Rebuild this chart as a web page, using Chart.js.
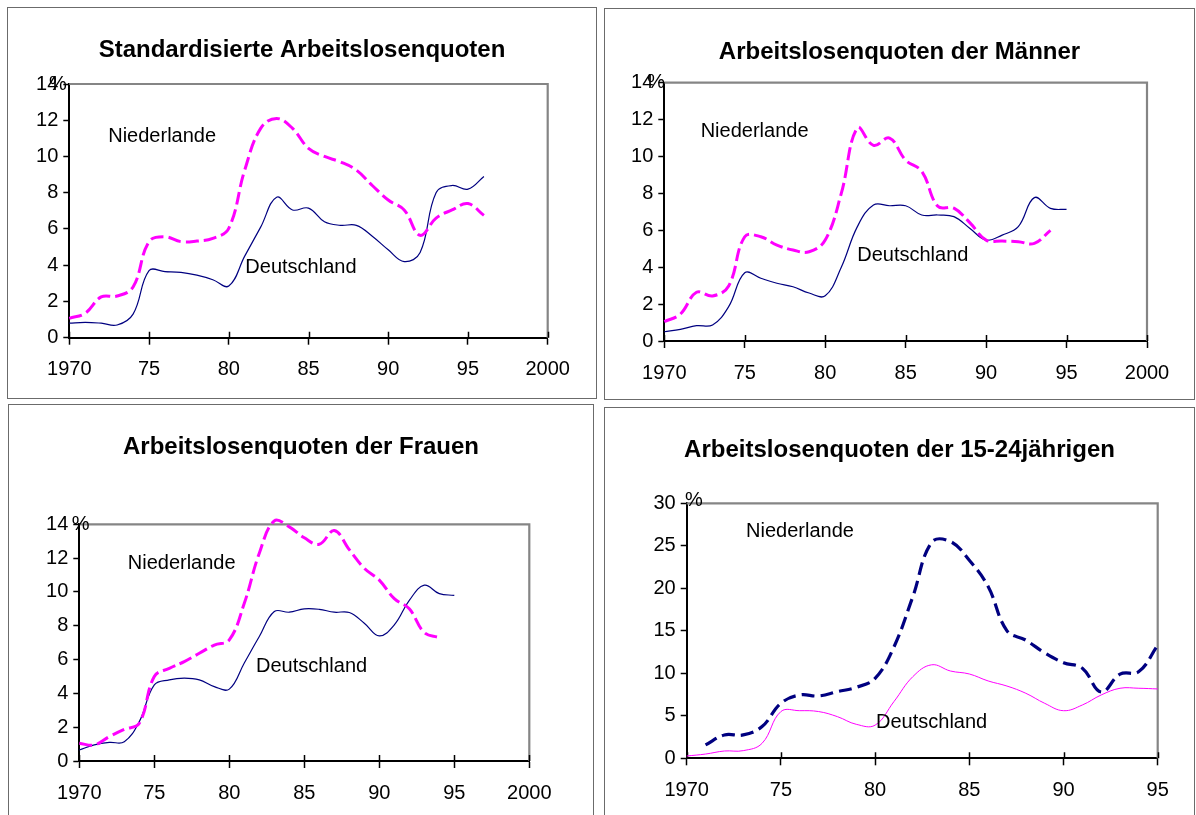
<!DOCTYPE html>
<html><head><meta charset="utf-8">
<script src="https://cdn.jsdelivr.net/npm/chart.js@4.4.0/dist/chart.umd.min.js"></script>
<style>
html,body{margin:0;padding:0;background:#fff;width:1196px;height:815px;overflow:hidden}
.box{position:absolute;border:1px solid #6b6b6b;box-sizing:border-box;background:#fff}
.box canvas{position:absolute;left:0;top:0}
</style></head><body>
<div class="box" style="left:7px;top:7px;width:590px;height:392px"><canvas id="c1" width="588" height="390"></canvas></div>
<div class="box" style="left:604px;top:8px;width:591px;height:392px"><canvas id="c2" width="589" height="390"></canvas></div>
<div class="box" style="left:8px;top:404px;width:586px;height:420px"><canvas id="c3" width="584" height="418"></canvas></div>
<div class="box" style="left:604px;top:407px;width:591px;height:420px"><canvas id="c4" width="589" height="418"></canvas></div>
<script>
// ---------- data ----------
const titles = ["Standardisierte Arbeitslosenquoten", "Arbeitslosenquoten der Männer", "Arbeitslosenquoten der Frauen", "Arbeitslosenquoten der 15-24jährigen"];
const seriesNames = ["Niederlande", "Deutschland"];

const xTicksA = [1970, 1975, 1980, 1985, 1990, 1995, 2000];
const xLabelsA = ["1970", "75", "80", "85", "90", "95", "2000"];
const xTicksB = [1970, 1975, 1980, 1985, 1990, 1995];
const xLabelsB = ["1970", "75", "80", "85", "90", "95"];

// Panel 1: standardisierte Quoten
const years1 = [1970,1971,1972,1973,1974,1975,1976,1977,1978,1979,1980,1981,1982,1983,1984,1985,1986,1987,1988,1989,1990,1991,1992,1993,1994,1995,1996];
const nl1 = [1.07,1.35,2.25,2.3,2.8,5.3,5.57,5.3,5.33,5.48,6.03,9.25,11.55,12.1,11.55,10.45,10.0,9.7,9.25,8.4,7.6,7.05,5.65,6.6,7.05,7.4,6.75];
const de1 = [0.8,0.85,0.8,0.7,1.3,3.7,3.65,3.6,3.45,3.2,2.85,4.5,6.1,7.75,7.05,7.15,6.4,6.2,6.2,5.6,4.85,4.2,4.7,8.0,8.4,8.2,8.9];

// Panel 2: Männer
const years2nl = [1970,1971,1972,1973,1974,1975,1976,1977,1978,1979,1980,1981,1982,1983,1984,1985,1986,1987,1988,1989,1990,1991,1992,1993,1994];
const nl2 = [1.05,1.46,2.64,2.44,2.98,5.65,5.65,5.2,4.93,4.84,5.47,8.0,11.55,10.6,11.0,9.8,9.2,7.3,7.2,6.4,5.47,5.42,5.38,5.29,6.0];
const years2de = [1970,1971,1972,1973,1974,1975,1976,1977,1978,1979,1980,1981,1982,1983,1984,1985,1986,1987,1988,1989,1990,1991,1992,1993,1994,1995];
const de2 = [0.5,0.63,0.83,0.87,1.86,3.7,3.4,3.13,2.94,2.6,2.45,4.0,6.2,7.37,7.33,7.33,6.83,6.83,6.74,6.1,5.47,5.74,6.2,7.77,7.19,7.13];

// Panel 3: Frauen
const years3nl = [1970,1971,1972,1973,1974,1975,1976,1977,1978,1979,1980,1981,1982,1983,1984,1985,1986,1987,1988,1989,1990,1991,1992,1993,1994];
const nl3 = [1.05,0.95,1.44,1.87,2.23,5.0,5.48,5.88,6.37,6.86,7.16,9.33,12.29,14.2,13.85,13.2,12.82,13.63,12.5,11.4,10.7,9.6,9.0,7.6,7.3];
const years3de = [1970,1971,1972,1973,1974,1975,1976,1977,1978,1979,1980,1981,1982,1983,1984,1985,1986,1987,1988,1989,1990,1991,1992,1993,1994,1995];
const de3 = [0.65,0.95,1.1,1.14,2.33,4.5,4.8,4.9,4.8,4.4,4.25,5.8,7.36,8.84,8.8,9.0,8.97,8.8,8.78,8.15,7.4,8.05,9.5,10.4,9.9,9.8];

// Panel 4: 15-24jährige
const years4nl = [1971,1972,1973,1974,1975,1976,1977,1978,1979,1980,1981,1982,1983,1984,1985,1986,1987,1988,1989,1990,1991,1992,1993,1994,1995];
const nl4 = [1.57,2.75,2.75,3.73,6.47,7.45,7.33,7.84,8.35,9.4,13.1,19.0,25.4,25.5,23.3,20.2,15.0,13.9,12.4,11.25,10.6,7.8,9.9,10.2,13.3];
const years4de = [1970,1971,1972,1973,1974,1975,1976,1977,1978,1979,1980,1981,1982,1983,1984,1985,1986,1987,1988,1989,1990,1991,1992,1993,1994,1995];
const de4 = [0.27,0.5,0.86,0.9,1.76,5.5,5.6,5.5,4.9,4.0,3.9,6.67,9.6,11.0,10.27,9.92,9.1,8.5,7.65,6.47,5.6,6.27,7.45,8.24,8.24,8.16];

// ---------- drawing ----------
const FONT = '"Liberation Sans", Arial, Helvetica, sans-serif';
Chart.defaults.font.family = FONT;
Chart.defaults.color = '#000';

const pts = (xs, ys) => xs.map((x, i) => ({x: x, y: ys[i]}));

const framePlugin = {
  id: 'frame',
  beforeDatasetsDraw(chart, args, opts) {
    const ctx = chart.ctx, a = chart.chartArea, xs = chart.scales.x;
    ctx.save();
    ctx.strokeStyle = '#858585'; ctx.lineWidth = 2.2;
    ctx.beginPath();
    ctx.moveTo(a.left, a.top); ctx.lineTo(a.right, a.top); ctx.lineTo(a.right, a.bottom);
    ctx.stroke();
    ctx.strokeStyle = '#000'; ctx.lineWidth = 1.5;
    ctx.beginPath();
    xs.ticks.forEach(t => {
      const px = Math.round(xs.getPixelForValue(t.value)) + 0.5;
      ctx.moveTo(px, a.bottom); ctx.lineTo(px, a.bottom - 6);
    });
    ctx.stroke();
    ctx.restore();
  },
  afterDraw(chart, args, opts) {
    const ctx = chart.ctx, a = chart.chartArea, xs = chart.scales.x, ys = chart.scales.y;
    ctx.save();
    // title, centred on the panel
    ctx.font = 'bold 24px ' + FONT;
    ctx.fillStyle = '#000';
    ctx.textAlign = 'center';
    ctx.textBaseline = 'alphabetic';
    ctx.fillText(opts.title, chart.width / 2, opts.titleMid + 8.6);
    // series labels
    ctx.font = '20px ' + FONT;
    ctx.textAlign = 'left';
    (opts.labels || []).forEach(l => ctx.fillText(l.text, xs.getPixelForValue(l.x), ys.getPixelForValue(l.y)));
    if (opts.pct) {
      ctx.textBaseline = 'middle';
      ctx.fillText('%', a.left + opts.pct.dx, a.top + opts.pct.dy);
    }
    ctx.restore();
  }
};

function build(id, p) {
  const cv = document.getElementById(id);
  const W = cv.width, H = cv.height;
  const yW = 50, xH = 40;
  new Chart(cv, {
    type: 'line',
    data: { datasets: p.datasets },
    options: {
      responsive: false, animation: false, events: [],
      layout: { padding: { left: p.plot[0] - yW, top: p.plot[1], right: W - p.plot[2], bottom: H - p.plot[3] - xH } },
      elements: { point: { radius: 0 }, line: { fill: false } },
      plugins: {
        legend: { display: false },
        tooltip: { enabled: false },
        title: { display: false },
        frame: { title: p.title, titleMid: p.titleMid, labels: p.labels, pct: p.pct }
      },
      scales: {
        x: {
          type: 'linear', min: p.xTicks[0], max: p.xTicks[p.xTicks.length - 1],
          afterFit: s => { s.height = xH; },
          afterBuildTicks: s => { s.ticks = p.xTicks.map(v => ({ value: v })); },
          ticks: { font: { size: 20 }, color: '#000', padding: 13, maxRotation: 0, autoSkip: false,
                   callback: v => p.xLabels[p.xTicks.indexOf(v)] },
          grid: { drawOnChartArea: false, drawTicks: true, tickLength: 7, tickColor: '#000', tickWidth: 1.5 },
          border: { display: true, color: '#000', width: 2 }
        },
        y: {
          min: 0, max: p.yMax,
          afterFit: s => { s.width = yW; },
          ticks: { stepSize: p.yStep, font: { size: 20 }, color: '#000', padding: 5 },
          grid: { drawOnChartArea: false, drawTicks: true, tickLength: 6, tickColor: '#000', tickWidth: 1.5 },
          border: { display: true, color: '#000', width: 2 }
        }
      }
    },
    plugins: [framePlugin]
  });
}

const dashStyle = (color, w, dash) => ({ borderColor: color, borderWidth: w, borderDash: dash, tension: 0.4, pointRadius: 0, borderCapStyle: 'butt', clip: 10 });
const solidStyle = (color, w) => ({ borderColor: color, borderWidth: w, tension: 0.4, pointRadius: 0, clip: 10 });
const MAG = '#FF00FF', NAVY = '#000080';

build('c1', {
  title: titles[0], titleMid: 40, plot: [61.3, 76, 539.7, 329.7],
  xTicks: xTicksA, xLabels: xLabelsA, yMax: 14, yStep: 2,
  datasets: [
    Object.assign({ label: seriesNames[0], data: pts(years1, nl1) }, dashStyle(MAG, 3, [13, 5])),
    Object.assign({ label: seriesNames[1], data: pts(years1, de1) }, solidStyle(NAVY, 1.2))
  ],
  labels: [{ text: seriesNames[0], x: 1972.44, y: 10.82 }, { text: seriesNames[1], x: 1981.04, y: 3.57 }],
  pct: { dx: -20.3, dy: 0 }
});

build('c2', {
  title: titles[1], titleMid: 41, plot: [59.3, 73.7, 542, 332],
  xTicks: xTicksA, xLabels: xLabelsA, yMax: 14, yStep: 2,
  datasets: [
    Object.assign({ label: seriesNames[0], data: pts(years2nl, nl2) }, dashStyle(MAG, 3, [13, 5])),
    Object.assign({ label: seriesNames[1], data: pts(years2de, de2) }, solidStyle(NAVY, 1.2))
  ],
  labels: [{ text: seriesNames[0], x: 1972.26, y: 11.07 }, { text: seriesNames[1], x: 1981.99, y: 4.34 }],
  pct: { dx: -17, dy: 0 }
});

build('c3', {
  title: titles[2], titleMid: 40, plot: [70.3, 119.3, 520.3, 356],
  xTicks: xTicksA, xLabels: xLabelsA, yMax: 14, yStep: 2,
  datasets: [
    Object.assign({ label: seriesNames[0], data: pts(years3nl, nl3) }, dashStyle(MAG, 3, [13, 5])),
    Object.assign({ label: seriesNames[1], data: pts(years3de, de3) }, solidStyle(NAVY, 1.2))
  ],
  labels: [{ text: seriesNames[0], x: 1973.23, y: 11.34 }, { text: seriesNames[1], x: 1981.78, y: 5.28 }],
  pct: { dx: -7.6, dy: 0 }
});

build('c4', {
  title: titles[3], titleMid: 40, plot: [81.7, 95.3, 552.7, 350.3],
  xTicks: xTicksB, xLabels: xLabelsB, yMax: 30, yStep: 5,
  datasets: [
    Object.assign({ label: seriesNames[0], data: pts(years4nl, nl4) }, dashStyle(NAVY, 3.2, [13, 6])),
    Object.assign({ label: seriesNames[1], data: pts(years4de, de4) }, solidStyle(MAG, 1))
  ],
  labels: [{ text: seriesNames[0], x: 1973.15, y: 26.07 }, { text: seriesNames[1], x: 1980.05, y: 3.53 }],
  pct: { dx: -1.7, dy: -2.5 }
});
</script>
</body></html>
